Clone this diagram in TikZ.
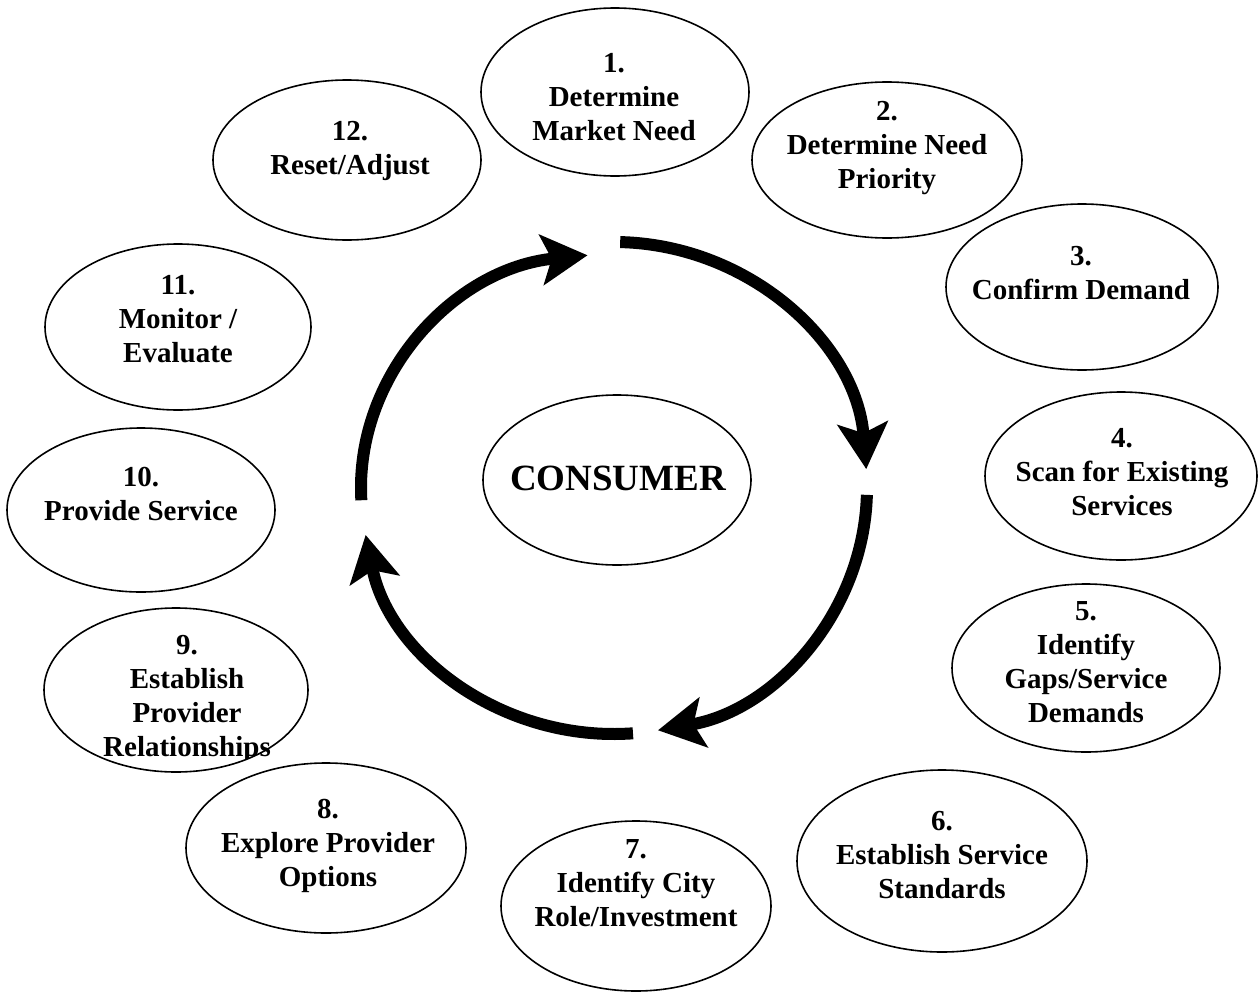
\documentclass[tikz,border=0pt]{standalone}
\usepackage{fontspec}
\setmainfont{Liberation Serif}
\usetikzlibrary{arrows.meta,shapes.geometric}
\tikzset{
  stage/.style={draw, ellipse, line width=1.6pt, inner sep=0pt},
  lbl/.style={align=center, inner sep=0pt, font=\bfseries\fontsize{29}{34}\selectfont},
  flow/.style={line width=12pt, -{Stealth[length=46pt,width=50pt,inset=10pt]}},
}
\begin{document}
\begin{tikzpicture}[x=1pt,y=-1pt]
\useasboundingbox (0,0) rectangle (1258,993);

% outer ring of stages
\node[stage, minimum width=268pt, minimum height=168pt] (s1)  at (615,92)  {};
\node[stage, minimum width=270pt, minimum height=156pt] (s2)  at (887,160) {};
\node[stage, minimum width=272pt, minimum height=166pt] (s3)  at (1082,287) {};
\node[stage, minimum width=272pt, minimum height=168pt] (s4)  at (1121,476) {};
\node[stage, minimum width=268pt, minimum height=168pt] (s5)  at (1086,668) {};
\node[stage, minimum width=290pt, minimum height=182pt] (s6)  at (942,861) {};
\node[stage, minimum width=270pt, minimum height=170pt] (s7)  at (636,906) {};
\node[stage, minimum width=280pt, minimum height=170pt] (s8)  at (326,848) {};
\node[stage, minimum width=264pt, minimum height=164pt] (s9)  at (176,690) {};
\node[stage, minimum width=268pt, minimum height=164pt] (s10) at (141,510) {};
\node[stage, minimum width=266pt, minimum height=166pt] (s11) at (178,327) {};
\node[stage, minimum width=268pt, minimum height=160pt] (s12) at (347,160) {};
\node[stage, minimum width=268pt, minimum height=170pt] (core) at (617,480) {};

% stage labels
\node[lbl] (t1)  at (614,97)  {1.\\Determine\\Market Need};
\node[lbl] (t2)  at (887,148) {2.\\Determine Need\\Priority};
\node[lbl] (t3)  at (1081,273) {3.\\Confirm Demand};
\node[lbl] (t4)  at (1122,472) {4.\\Scan for Existing\\Services};
\node[lbl] (t5)  at (1086,662) {5.\\Identify\\Gaps/Service\\Demands};
\node[lbl] (t6)  at (942,855) {6.\\Establish Service\\Standards};
\node[lbl] (t7)  at (636,883) {7.\\Identify City\\Role/Investment};
\node[lbl] (t8)  at (328,846) {8.\\Explore Provider\\Options};
\begin{scope}
  % the last line sits on the rim, so its descenders are cut off
  \clip (0,590) rectangle (320,758);
  \node[lbl] (t9) at (187,699) {9.\\Establish\\Provider\\Relationships};
\end{scope}
\node[lbl] (t10) at (141,494) {10.\\Provide Service};
\node[lbl] (t11) at (178,319) {11.\\Monitor /\\Evaluate};
\node[lbl] (t12) at (350,151) {12.\\Reset/Adjust};
\node[font=\bfseries\fontsize{37}{40}\selectfont, inner sep=0pt] (tc) at (618,478) {CONSUMER};

% cycle arrows around the core
\coordinate (hub) at (614,488);
\draw[flow] ([shift={(-88.6:253 and 246)}]hub) arc[start angle=-88.6, end angle=-4.4, x radius=253, y radius=246];
\draw[flow] ([shift={(1.6:253 and 246)}]hub) arc[start angle=1.6, end angle=80, x radius=253, y radius=246];
\draw[flow] ([shift={(85.7:253 and 246)}]hub) arc[start angle=85.7, end angle=169, x radius=253, y radius=246];
\draw[flow] ([shift={(177:253 and 234)}]hub) arc[start angle=177, end angle=264, x radius=253, y radius=234];
\end{tikzpicture}
\end{document}
